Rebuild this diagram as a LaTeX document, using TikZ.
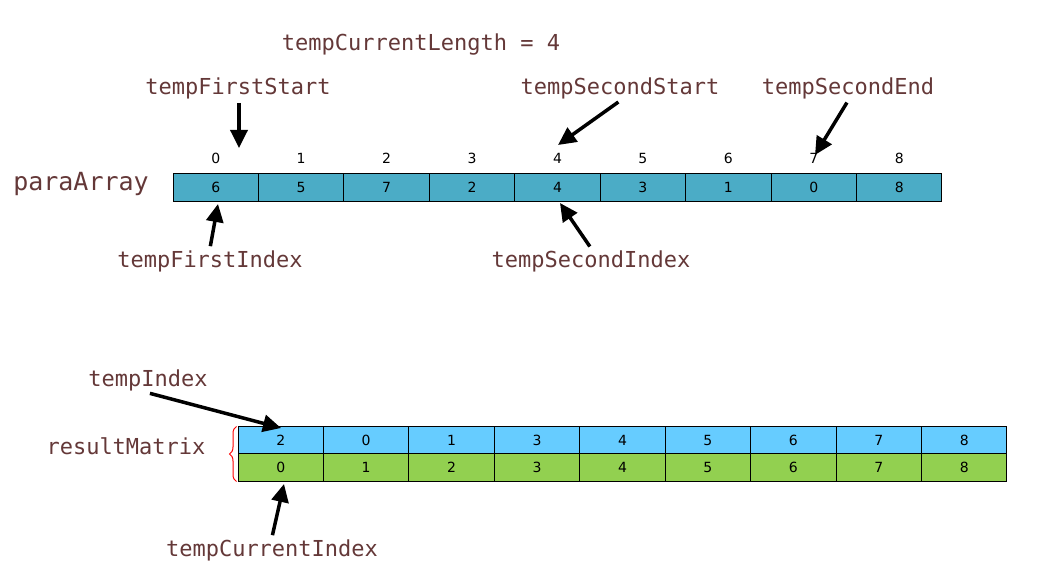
\documentclass[tikz,border=0pt]{standalone}
\usepackage{fontspec}
\setsansfont{DejaVu Sans}
\setmonofont{DejaVu Sans Mono}
\usepackage{tikz}
\usetikzlibrary{arrows.meta, decorations.pathreplacing}
\definecolor{labelbrown}{RGB}{100,56,56}
\definecolor{paraBlue}{RGB}{75,172,198}
\definecolor{rowBlue}{RGB}{102,204,255}
\definecolor{rowGreen}{RGB}{146,208,80}
\tikzset{
    x=1pt, y=-1pt, % one unit is one pixel of the sketch
    varLabel/.style={text=labelbrown, font=\ttfamily\fontsize{22}{24}\selectfont, inner sep=2pt}, % variable names
    digits/.style={font=\sffamily\fontsize{14}{16}\selectfont, text height=10pt, text depth=0pt},
    cellBase/.style={digits, draw=black, line width=1pt, minimum width=85.44pt, inner sep=0pt},
    pointer/.style={line width=3.5pt, -{Triangle[length=18pt,width=17pt]}, shorten <=2pt}, % thick black pointer
}
\begin{document}
\begin{tikzpicture}[
                    paraCell/.style={cellBase, fill=paraBlue, minimum height=28pt},
                    topCell/.style={cellBase, fill=rowBlue, minimum height=27pt},
                    botCell/.style={cellBase, fill=rowGreen, minimum height=27pt},
                    idxLabel/.style={digits, inner sep=0pt},
                ]
    \useasboundingbox (0,0) rectangle (1037,585);

    % upper array
    \node[varLabel, font=\ttfamily\fontsize{25}{27}\selectfont] (pa) at (81,184) {paraArray};
    \foreach \v [count=\i from 0] in {6,5,7,2,4,3,1,0,8} {
        \node[paraCell] (p\i) at ({173+85.44*(\i+0.5)},188) {\v};
        \node[idxLabel] (n\i) at ({173+85.44*(\i+0.5)},159) {\i};
    }

    % lower matrix
    \node[varLabel] (rm) at (126,446) {resultMatrix};
    \foreach \v [count=\i from 0] in {2,0,1,3,4,5,6,7,8} {
        \node[topCell] (t\i) at ({238+85.44*(\i+0.5)},440.5) {\v};
        \node[botCell] (b\i) at ({238+85.44*(\i+0.5)},467.5) {\i};
    }
    \draw[red, line width=1pt, decorate, decoration={brace, amplitude=7pt}] (b0.south west) ++(-1,0) -- ([xshift=-1pt]t0.north west);

    % labels
    \node[varLabel] (len) at (421,45) {tempCurrentLength = 4};
    \node[varLabel] (fs) at (238,88) {tempFirstStart};
    \node[varLabel] (ss) at (620,88) {tempSecondStart};
    \node[varLabel] (se) at (848,88) {tempSecondEnd};
    \node[varLabel] (fi) at (210,261) {tempFirstIndex};
    \node[varLabel] (si) at (591,261) {tempSecondIndex};
    \node[varLabel] (ti) at (148,380) {tempIndex};
    \node[varLabel] (ci) at (272,550) {tempCurrentIndex};

    % arrow tips
    \coordinate (fsTip) at (239,148);
    \coordinate (ssTip) at (558,145);
    \coordinate (seTip) at (815,155);
    \coordinate (fiTip) at (218,204);
    \coordinate (siTip) at (560,203);
    \coordinate (tiTip) at (281,428);
    \coordinate (ciTip) at (284,484);

    \draw[pointer] (fs.south -| fsTip) -- (fsTip);
    \draw[pointer] (ss.south) -- (ssTip);
    \draw[pointer] (se.south) -- (seTip);
    \draw[pointer] (fi.north) -- (fiTip);
    \draw[pointer] (si.north) -- (siTip);
    \draw[pointer] (ti.south) -- (tiTip);
    \draw[pointer] (ci.north) -- (ciTip);
\end{tikzpicture}
\end{document}
